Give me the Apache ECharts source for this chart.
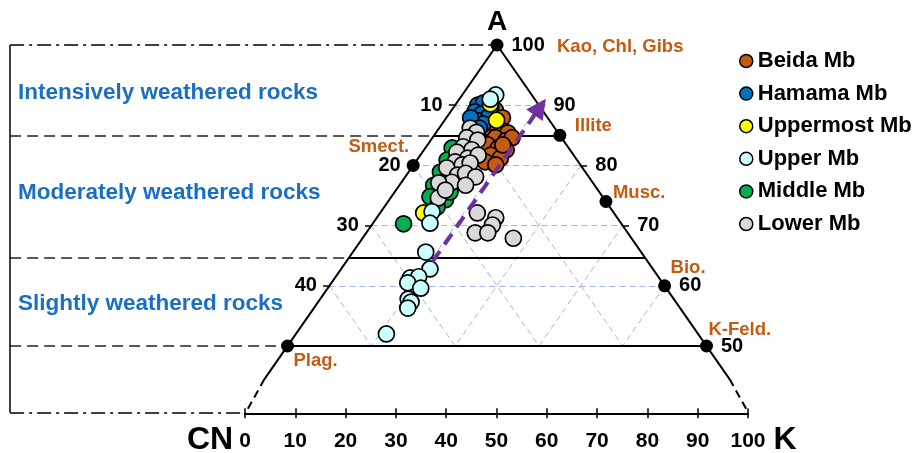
<!DOCTYPE html>
<html><head><meta charset="utf-8">
<script src="https://cdn.jsdelivr.net/npm/echarts@6/dist/echarts.min.js"></script>
<style>html,body{margin:0;padding:0;background:#fff}#c{width:916px;height:453px}</style>
</head><body><div id="c"></div>
<script>
// ---- Data: A-CN-K ternary compositions (A and K in %, CN = 100 - A - K) ----
const seriesNames = ['Beida Mb', 'Hamama Mb', 'Uppermost Mb', 'Upper Mb', 'Middle Mb', 'Lower Mb'];
const beidaA = [89.7, 89.2, 87.9, 86.2, 85.9, 85.4, 84.6, 84.1, 84.6, 83.4, 82.9, 82.6, 81.7, 81.2, 80.6, 80.1, 83.4, 87.2];
const beidaK = [4.0, 5.2, 6.7, 6.1, 7.5, 8.6, 7.5, 9.0, 9.5, 7.2, 8.7, 9.8, 8.4, 9.8, 8.3, 9.8, 9.0, 5.8];
const hamamaA = [90.0, 90.4, 89.7, 88.9, 88.5, 87.9, 87.5, 86.9, 87.9, 86.2];
const hamamaK = [2.7, 3.2, 4.4, 2.9, 3.9, 4.9, 3.8, 4.9, 2.9, 4.8];
const uppermostA = [90.2, 87.5, 72.1];
const uppermostK = [4.1, 6.2, 5.2];
const upperA = [91.7, 91.0, 72.3, 70.4, 65.6, 62.8, 61.3, 61.5, 60.5, 59.6, 57.8, 57.3, 56.3, 52.0];
const upperK = [4.0, 3.7, 6.1, 6.8, 8.7, 10.6, 9.0, 9.9, 9.1, 11.1, 10.5, 11.1, 11.2, 10.8];
const middleA = [82.9, 80.9, 78.9, 76.7, 74.8, 74.3, 75.6, 73.1, 70.3];
const middleK = [3.2, 3.6, 3.8, 4.1, 4.6, 6.7, 6.6, 6.3, 3.7];
const lowerA = [86.2, 85.5, 84.6, 84.2, 83.1, 82.6, 82.2, 81.2, 81.7, 80.6, 80.1, 80.4, 79.6, 78.4, 78.7, 78.1, 77.2, 76.7, 77.1, 74.6, 75.9, 72.1, 71.3, 70.1, 68.8, 68.8, 67.9];
const lowerK = [3.7, 4.8, 4.1, 5.6, 4.4, 5.7, 4.1, 5.9, 6.9, 4.7, 5.8, 6.6, 4.2, 6.1, 6.9, 8.4, 6.0, 7.9, 4.5, 5.7, 5.9, 11.6, 14.2, 14.4, 13.0, 14.5, 18.0];

// tick labels
const rightTicks = [100, 90, 80, 70, 60, 50];   // A values on the A-K side
const leftTicks = [10, 20, 30, 40];             // CN values on the A-CN side
const gridSteps = [10, 20, 30, 40];
// reference minerals
const mineralNames = ['Kao, Chl, Gibs', 'Illite', 'Musc.', 'Bio.', 'K-Feld.', 'Smect.', 'Plag.'];
const mineralA = [100, 85, 74, 60, 50, 80, 50];
const mineralSide = ['K', 'K', 'K', 'K', 'K', 'CN', 'CN'];
// weathering zones
const zoneNames = ['Intensively weathered rocks', 'Moderately weathered rocks', 'Slightly weathered rocks'];
const zoneA = [85, 64.6, 50];
// weathering trend arrow (A, K)
const arrowA = [64.0, 89.7];
const arrowK = [10.3, 10.3];

// ---- styling / layout ----
const colors = { 'Beida Mb': '#C55A11', 'Hamama Mb': '#0070C0', 'Uppermost Mb': '#FFFF00', 'Upper Mb': '#CCFFFF', 'Middle Mb': '#00B050', 'Lower Mb': '#D9D9D9' };
const LS = "'Liberation Sans', Arial, sans-serif";
const ORANGE = '#C55A11';
const BLUE_TXT = '#1A6FC4';
const frameX = -8.1, baseA = 38.9, dashStartA = 44.5;
const mineralOffsets = [[60, 2, 'left'], [15, -9.5, 'left'], [7, -9, 'left'], [6, -18, 'left'], [2, -16, 'left'], [-4, -18, 'right'], [6, 15, 'left']];

const tern = (A, K) => [K + A / 2, A];
const leftPt = A => tern(A, 0);
const rightPt = A => tern(A, 100 - A);
const seg = (p, q) => ({ coords: [p, q] });

const pack = (A, K) => A.map((a, i) => tern(a, K[i]));
const dataMap = {
  'Beida Mb': pack(beidaA, beidaK), 'Hamama Mb': pack(hamamaA, hamamaK),
  'Uppermost Mb': pack(uppermostA, uppermostK), 'Upper Mb': pack(upperA, upperK),
  'Middle Mb': pack(middleA, middleK), 'Lower Mb': pack(lowerA, lowerK)
};
const drawOrder = ['Beida Mb', 'Hamama Mb', 'Middle Mb', 'Lower Mb', 'Uppermost Mb', 'Upper Mb'];

function linesSeries(data, style, z) {
  return { type: 'lines', coordinateSystem: 'cartesian2d', xAxisIndex: 0, yAxisIndex: 0, clip: false, silent: true,
    z: z || 1, symbol: 'none', lineStyle: Object.assign({ opacity: 1 }, style), data };
}

// grid (light blue dashed)
const gridSegs = [];
gridSteps.forEach(s => {
  const A = 100 - s;
  gridSegs.push(seg(leftPt(A), rightPt(A)));           // A = const
  gridSegs.push(seg(tern(A, 0), tern(50, 50 - s)));    // CN = s
  gridSegs.push(seg(tern(A, s), tern(50, s)));         // K = s
});

const series = [];
series.push(linesSeries(gridSegs, { color: '#9DB8E6', width: 1, type: [6, 4] }, 1));
// triangle sides
series.push(linesSeries([seg(tern(100, 0), leftPt(dashStartA)), seg(tern(100, 0), rightPt(dashStartA))], { color: '#000', width: 2 }, 3));
series.push(linesSeries([seg(leftPt(dashStartA), [20, baseA]), seg(rightPt(dashStartA), [80, baseA])], { color: '#000', width: 2, type: [8, 5] }, 3));
// zone boundary lines
series.push(linesSeries(zoneA.map(a => seg(leftPt(a), rightPt(a))), { color: '#000', width: 2 }, 3));
series.push(linesSeries(zoneA.map(a => seg([frameX, a], leftPt(a))), { color: '#222', width: 1.5, type: [11, 6] }, 3));
// frame
series.push(linesSeries([seg([frameX, 100], tern(100, 0)), seg([frameX, baseA], [20, baseA])], { color: '#000', width: 1.5, type: [14, 5, 3, 5] }, 3));
series.push(linesSeries([seg([frameX, 100], [frameX, baseA])], { color: '#000', width: 1.5 }, 3));
// side ticks
const tickSegs = [];
leftTicks.forEach(c => { const p = leftPt(100 - c); tickSegs.push(seg([p[0] - 0.75, p[1]], p)); });
rightTicks.slice(1, 4).forEach(a => { const p = rightPt(a); tickSegs.push(seg(p, [p[0] + 0.75, p[1]])); });
series.push(linesSeries(tickSegs, { color: '#000', width: 1.5 }, 3));

// mineral dots
series.push({ type: 'scatter', xAxisIndex: 0, yAxisIndex: 0, clip: false, silent: true, z: 4, symbolSize: 13,
  itemStyle: { color: '#000', opacity: 1 },
  data: mineralNames.map((n, i) => {
    const p = mineralSide[i] === 'K' ? rightPt(mineralA[i]) : leftPt(mineralA[i]);
    const o = mineralOffsets[i];
    return { value: p, label: { show: true, formatter: n, position: 'inside', align: o[2], verticalAlign: 'middle', offset: [o[0], o[1]],
      color: ORANGE, fontFamily: LS, fontWeight: 'bold', fontSize: 18.5 } };
  })
});

// data series
drawOrder.forEach((n, i) => {
  series.push({ name: n, type: 'scatter', xAxisIndex: 0, yAxisIndex: 0, clip: false, z: 5 + i, symbolSize: 16,
    itemStyle: { color: colors[n], borderColor: '#000', borderWidth: 1.7, opacity: 1 }, data: dataMap[n] });
});

// arrow
series.push({ type: 'lines', coordinateSystem: 'cartesian2d', xAxisIndex: 0, yAxisIndex: 0, clip: false, silent: true, z: 12,
  symbol: ['none', 'triangle'], symbolSize: [1, 20],
  lineStyle: { color: '#7030A0', width: 4, type: [13, 8], opacity: 1 },
  data: [{ coords: [tern(arrowA[0], arrowK[0]), tern(arrowA[1], arrowK[1])] }] });

// tick labels
const tickLabelStyle = { color: '#000', fontFamily: LS, fontWeight: 'bold', fontSize: 20 };
series.push({ type: 'scatter', xAxisIndex: 0, yAxisIndex: 0, clip: false, silent: true, z: 2, symbolSize: 1,
  itemStyle: { color: 'rgba(0,0,0,0)', opacity: 1 },
  data: rightTicks.map(a => ({ value: rightPt(a), label: Object.assign({ show: true, formatter: String(a), position: 'right', distance: 14 }, tickLabelStyle) }))
    .concat(leftTicks.map(c => ({ value: leftPt(100 - c), label: Object.assign({ show: true, formatter: String(c), position: 'left', distance: 12 }, tickLabelStyle) })))
});

const zoneLabelY = [93, 193, 304];
const option = {
  animation: false,
  backgroundColor: '#fff',
  grid: [{ left: 245.6, right: 167.6, top: 45, bottom: 46.8 }, { left: 245, right: 168, top: 400, height: 13.3 }],
  xAxis: [
    { gridIndex: 0, type: 'value', min: 20, max: 80, show: false },
    { gridIndex: 1, type: 'value', min: 0, max: 100, interval: 10, position: 'bottom',
      axisLine: { lineStyle: { color: '#000', width: 2 } }, axisTick: { length: 5, lineStyle: { color: '#000', width: 1.5 } },
      splitLine: { show: false },
      axisLabel: { margin: 17, color: '#000', fontFamily: LS, fontWeight: 'bold', fontSize: 21, showMinLabel: true, showMaxLabel: true } },
    { gridIndex: 1, type: 'value', min: 0, max: 100, interval: 10, position: 'bottom',
      axisLine: { show: false }, axisTick: { inside: true, length: 5, lineStyle: { color: '#000', width: 1.5 } },
      splitLine: { show: false }, axisLabel: { show: false } }
  ],
  yAxis: [
    { gridIndex: 0, type: 'value', min: 40, max: 100, show: false },
    { gridIndex: 1, type: 'value', min: 0, max: 1, show: false }
  ],
  legend: {
    data: seriesNames, orient: 'vertical', left: 739, top: 50, itemGap: 10.6, itemWidth: 13, itemHeight: 13, icon: 'circle',
    selectedMode: false, padding: 0,
    itemStyle: { borderColor: '#000', borderWidth: 1.5 },
    textStyle: { color: '#000', fontFamily: LS, fontWeight: 'bold', fontSize: 22, lineHeight: 22 }
  },
  graphic: zoneNames.map((t, i) => ({ type: 'text', left: 18, top: zoneLabelY[i] - 12, silent: true,
      style: { text: t, fill: BLUE_TXT, font: "bold 22.5px 'Liberation Sans', Arial, sans-serif" } }))
    .concat([
      { type: 'text', x: 497, y: 22, silent: true, style: { text: 'A', fill: '#000', font: "bold 28px 'Liberation Sans', Arial, sans-serif", align: 'center', verticalAlign: 'middle' } },
      { type: 'text', x: 210, y: 440, silent: true, style: { text: 'CN', fill: '#000', font: "bold 32px 'Liberation Sans', Arial, sans-serif", align: 'center', verticalAlign: 'middle' } },
      { type: 'text', x: 785, y: 440, silent: true, style: { text: 'K', fill: '#000', font: "bold 32px 'Liberation Sans', Arial, sans-serif", align: 'center', verticalAlign: 'middle' } }
    ]),
  series
};
const chart = echarts.init(document.getElementById('c'), null, { renderer: 'canvas' });
chart.setOption(option);
</script>
</body></html>
